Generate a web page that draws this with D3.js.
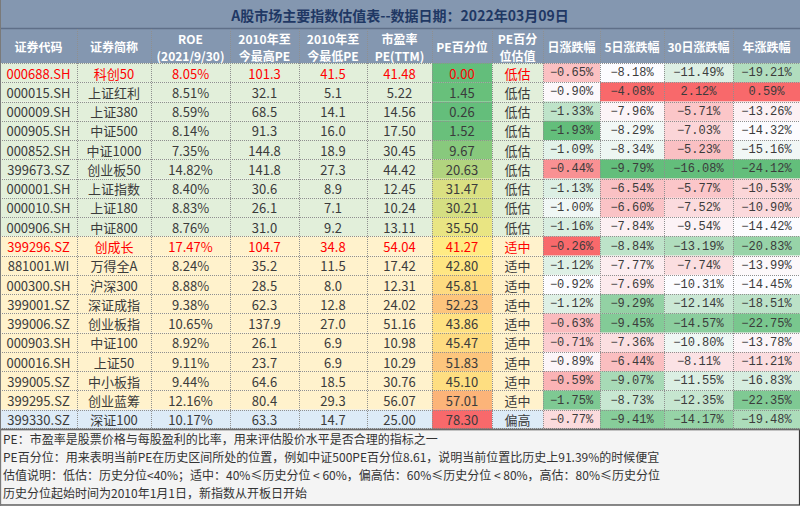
<!DOCTYPE html>
<html><head><meta charset="utf-8">
<script src="https://cdn.jsdelivr.net/npm/d3@7"></script>
<style>body{margin:0;background:#fff}svg{display:block}</style>
</head><body><svg id="c" width="800" height="506"></svg>
<script>
// ---------------- DATA ----------------
const title = "A股市场主要指数估值表--数据日期：2022年03月09日";
const headers = [["证券代码"],["证券简称"],["ROE","(2021/9/30)"],["2010年至","今最高PE"],["2010年至","今最低PE"],["市盈率","PE(TTM)"],["PE百分位"],["PE百分","位估值"],["日涨跌幅"],["5日涨跌幅"],["30日涨跌幅"],["年涨跌幅"]];
const codes = ["000688.SH","000015.SH","000009.SH","000905.SH","000852.SH","399673.SZ","000001.SH","000010.SH","000906.SH","399296.SZ","881001.WI","000300.SH","399001.SZ","399006.SZ","000903.SH","000016.SH","399005.SZ","399295.SZ","399330.SZ"];
const names = ["科创50","上证红利","上证380","中证500","中证1000","创业板50","上证指数","上证180","中证800","创成长","万得全A","沪深300","深证成指","创业板指","中证100","上证50","中小板指","创业蓝筹","深证100"];
const roe = [8.05,8.51,8.59,8.14,7.35,14.82,8.40,8.83,8.76,17.47,8.24,8.88,9.38,10.65,8.92,9.11,9.44,12.16,10.17];
const peHigh = [101.3,32.1,68.5,91.3,144.8,141.8,30.6,26.1,31.0,104.7,35.2,28.5,62.3,137.9,26.1,23.7,64.6,80.4,63.3];
const peLow = [41.5,5.1,14.1,16.0,18.9,27.3,8.9,7.1,9.2,34.8,11.5,8.0,12.8,27.0,6.9,6.9,18.5,29.3,14.7];
const peTTM = [41.48,5.22,14.56,17.50,30.45,44.42,12.45,10.24,13.11,54.04,17.42,12.31,24.02,51.16,10.98,10.29,30.76,56.07,25.00];
const pePct = [0.00,1.45,0.26,1.52,9.67,20.63,31.47,30.21,35.50,41.27,42.80,45.81,52.23,43.86,45.47,51.83,45.10,57.01,78.30];
const valuation = ["低估","低估","低估","低估","低估","低估","低估","低估","低估","适中","适中","适中","适中","适中","适中","适中","适中","适中","偏高"];
const chg1d = [-0.65,-0.90,-1.33,-1.93,-1.09,-0.44,-1.13,-1.00,-1.16,-0.26,-1.12,-0.92,-1.12,-0.63,-0.71,-0.89,-0.59,-1.75,-0.77];
const chg5d = [-8.18,-4.08,-7.96,-8.29,-8.34,-9.79,-6.54,-6.60,-7.84,-8.84,-7.77,-7.69,-9.29,-9.45,-7.36,-6.44,-9.07,-8.73,-9.41];
const chg30d = [-11.49,2.12,-5.71,-7.03,-5.23,-16.08,-5.77,-7.52,-9.54,-13.19,-7.74,-10.31,-12.14,-14.57,-10.80,-8.11,-11.55,-12.35,-14.17];
const chgYear = [-19.21,0.59,-13.26,-14.32,-15.16,-24.12,-10.53,-10.90,-14.42,-20.83,-13.99,-14.45,-18.51,-22.75,-13.78,-11.21,-16.83,-22.35,-19.48];
const highlighted = ["000688.SH","399296.SZ"];
const notes = [
  "PE：市盈率是股票价格与每股盈利的比率，用来评估股价水平是否合理的指标之一",
  "PE百分位：用来表明当前PE在历史区间所处的位置，例如中证500PE百分位8.61，说明当前位置比历史上91.39%的时候便宜",
  "估值说明：低估：历史分位<40%；适中：40%≤历史分位 < 60%，偏高估：60%≤历史分位 < 80%，高估：80%≤历史分位",
  "历史分位起始时间为2010年1月1日，新指数从开板日开始"
];

// ---------------- LAYOUT ----------------
const W = 800, H = 506;
const colEdges = [0,77,151,230,299,367,432,492,543,600,664,733,800];
const titleH = 28, headTop = 29, headBot = 63, bodyBot = 429;
const svg = d3.select("#c");
const font = "'Noto Sans CJK SC','Noto Sans',sans-serif";
const mono = "'Liberation Mono','DejaVu Sans Mono',monospace";

const y = d3.scaleBand().domain(codes).range([headBot, bodyBot]);
const rowBg = {"低估":"#e2efda","适中":"#fff2cc","偏高":"#ddebf7"};
const textCol = "#3b3b3b", red = "#ff0000";

const pctColor = d3.scaleLinear().domain([d3.min(pePct), d3.median(pePct), d3.max(pePct)]).range(["#63be7b","#ffeb84","#f8696b"]);
function chgScale(a){return d3.scaleLinear().domain([d3.min(a), d3.median(a), d3.max(a)]).range(["#63be7b","#fcfcff","#f8696b"]);}
const chgCols = [chg1d, chg5d, chg30d, chgYear];
const chgScales = chgCols.map(chgScale);

// title bar + header background
svg.append("rect").attr("x",0).attr("y",0).attr("width",W).attr("height",headBot).attr("fill","#8497b0");
svg.append("text").attr("x",W/2).attr("y",titleH/2+1).attr("text-anchor","middle").attr("dominant-baseline","central")
  .attr("font-family",font).attr("font-size",14).attr("font-weight","bold").attr("fill","#1f3864").text(title);
svg.append("line").attr("x1",0).attr("x2",W).attr("y1",titleH+0.5).attr("y2",titleH+0.5).attr("stroke","#5f6f88").attr("stroke-width",1.5);

// headers (one text element per line)
headers.forEach((h,j)=>{
  const cx = (colEdges[j]+colEdges[j+1])/2;
  const ys = h.length===1 ? [(headTop+headBot)/2] : [38.5,55];
  h.forEach((line,k)=>{
    svg.append("text").attr("x",cx).attr("y",ys[k]).attr("text-anchor","middle").attr("dominant-baseline","central")
      .attr("font-family",font).attr("font-size",12).attr("font-weight","bold").attr("fill","#ffffff").text(line);
  });
});

// body rows
const f1 = d3.format(".1f"), f2 = d3.format(".2f");
codes.forEach((code,i)=>{
  const y0 = y(code), bh = y.bandwidth(), cy = y0 + bh/2;
  const isRed = highlighted.includes(code);
  const bg = rowBg[valuation[i]];
  const cells = [
    {v:code},{v:names[i]},{v:f2(roe[i])+"%"},{v:f1(peHigh[i])},{v:f1(peLow[i])},{v:f2(peTTM[i])},
    {v:f2(pePct[i]), fill:pctColor(pePct[i])},
    {v:valuation[i]},
    ...chgCols.map((arr,k)=>({v:f2(arr[i])+"%", fill:chgScales[k](arr[i]), mono:true}))
  ];
  cells.forEach((c,j)=>{
    const x0 = colEdges[j], x1 = colEdges[j+1];
    svg.append("rect").attr("x",x0).attr("y",y0).attr("width",x1-x0).attr("height",bh).attr("fill",c.fill||bg);
    const redCell = isRed && j<=7;
    svg.append("text").attr("x",(x0+x1)/2).attr("y",cy+0.5).attr("text-anchor","middle").attr("dominant-baseline","central")
      .attr("font-family",c.mono?mono:font).attr("font-size",c.mono?12:13)
      .attr("fill",redCell?red:textCol).text(c.v);
  });
});

// grid lines
const grid = svg.append("g").attr("stroke","#8f8f8f").attr("stroke-width",1).attr("stroke-dasharray","1,1");
colEdges.slice(1,-1).forEach(x=>{
  grid.append("line").attr("x1",x+0.5).attr("x2",x+0.5).attr("y1",headTop).attr("y2",bodyBot);
});
codes.forEach(code=>{
  const yy = Math.round(y(code))+0.5;
  grid.append("line").attr("x1",0).attr("x2",W).attr("y1",yy).attr("y2",yy);
});
grid.append("line").attr("x1",0).attr("x2",W).attr("y1",bodyBot-0.5).attr("y2",bodyBot-0.5);

// footer
svg.append("rect").attr("x",0.5).attr("y",bodyBot+0.5).attr("width",W-1).attr("height",H-bodyBot-1.5)
  .attr("fill","#f4f4f4").attr("stroke","#3a3a3a").attr("stroke-width",1.2);
svg.append("line").attr("x1",0).attr("x2",W).attr("y1",bodyBot+0.5).attr("y2",bodyBot+0.5).attr("stroke","#6b6b6b").attr("stroke-width",1.5);
notes.forEach((n,k)=>{
  svg.append("text").attr("x",3).attr("y",438+k*18).attr("dominant-baseline","central")
    .attr("font-family",font).attr("font-size",12).attr("fill","#333333").text(n);
});
svg.append("line").attr("x1",0.5).attr("x2",0.5).attr("y1",0).attr("y2",H).attr("stroke","#7a7a7a");
</script></body></html>
